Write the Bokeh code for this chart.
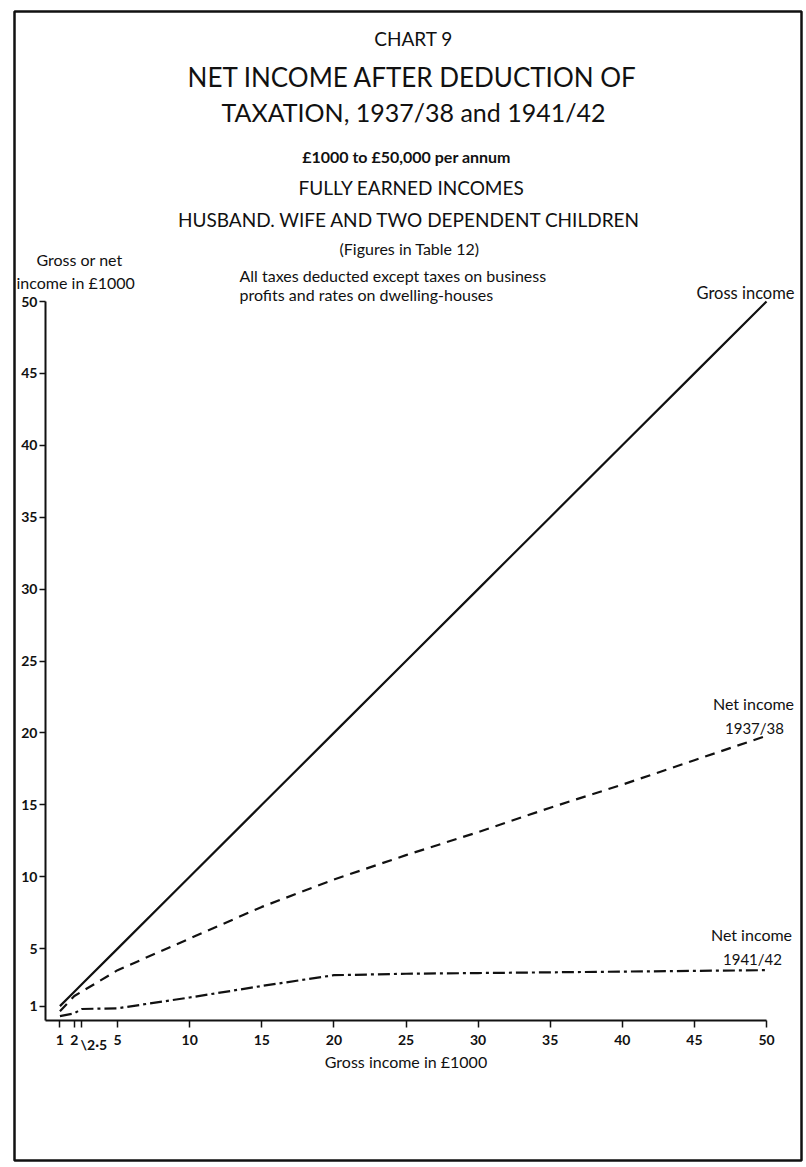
from bokeh.plotting import figure
from bokeh.models import Range1d, FixedTicker, Label, BoxAnnotation, LinearAxis
from bokeh.embed import file_html
from bokeh.resources import INLINE

# ---- data (values in £1000) ----
gross_income = [1, 2, 2.5, 5, 10, 15, 20, 25, 30, 35, 40, 45, 50]
gross_line = [1, 2, 2.5, 5, 10, 15, 20, 25, 30, 35, 40, 45, 50]
net_1937_38 = [0.65, 1.7, 2.0, 3.5, 5.7, 7.9, 9.8, 11.5, 13.1, 14.8, 16.4, 18.1, 19.8]
net_1941_42 = [0.3, 0.5, 0.8, 0.85, 1.6, 2.4, 3.15, 3.25, 3.3, 3.35, 3.4, 3.45, 3.5]

x_ticks = [1, 2, 2.5, 5, 10, 15, 20, 25, 30, 35, 40, 45, 50]
y_ticks = [1, 5, 10, 15, 20, 25, 30, 35, 40, 45, 50]

FONT = "Lato"
INK = "#111111"

W, H = 804, 1165
# canvas position of data origin and pixels per unit
OX, OY = 45.0, 1020.0
SX, SY = 14.42, 14.38

def dx(px):
    return (px - OX) / SX
def dy(py):
    return (OY - py) / SY

p = figure(width=W, height=H, output_backend="svg", toolbar_location=None,
           x_range=Range1d(dx(0), dx(W)), y_range=Range1d(dy(H), dy(0)),
           x_axis_location=None, y_axis_location=None,
           min_border=0, min_border_left=0, min_border_right=0,
           min_border_top=0, min_border_bottom=0)
p.outline_line_color = None
p.xgrid.grid_line_color = None
p.ygrid.grid_line_color = None
p.background_fill_color = "white"
p.border_fill_color = "white"

# axes
xa = LinearAxis(fixed_location=0, bounds=(0, 50))
xa.ticker = FixedTicker(ticks=x_ticks, minor_ticks=[])
xa.major_label_overrides = {2.5: ""}
xa.major_tick_out = 7
xa.major_tick_in = 0
xa.minor_tick_out = 0
xa.axis_line_width = 2
xa.axis_line_color = INK
xa.major_tick_line_color = INK
xa.major_tick_line_width = 1.5
xa.major_label_text_font = FONT
xa.major_label_text_font_size = "14px"
xa.major_label_text_font_style = "bold"
xa.major_label_text_color = INK
xa.major_label_standoff = 7
xa.axis_label = "Gross income in £1000"
xa.axis_label_text_font = FONT
xa.axis_label_text_font_size = "16px"
xa.axis_label_text_font_style = "normal"
xa.axis_label_text_color = INK
xa.axis_label_standoff = 4
p.add_layout(xa, "below")

ya = LinearAxis(fixed_location=0, bounds=(0, 50))
ya.ticker = FixedTicker(ticks=y_ticks, minor_ticks=[])
ya.major_tick_out = 6
ya.major_tick_in = 0
ya.minor_tick_out = 0
ya.axis_line_width = 2
ya.axis_line_color = INK
ya.major_tick_line_color = INK
ya.major_tick_line_width = 1.5
ya.major_label_text_font = FONT
ya.major_label_text_font_size = "14px"
ya.major_label_text_font_style = "bold"
ya.major_label_text_color = INK
ya.major_label_standoff = 2
p.add_layout(ya, "left")

# lines
p.line(gross_income, gross_line, line_width=2.2, line_color=INK)
p.line(gross_income, net_1937_38, line_width=2.2, line_color=INK, line_dash="10 7")
p.line(gross_income, net_1941_42, line_width=2.2, line_color=INK, line_dash="12 4 3 4")

# outer frame
p.add_layout(BoxAnnotation(left=dx(14), right=dx(801), top=dy(11), bottom=dy(1160),
                           fill_alpha=0, line_color=INK, line_alpha=1, line_width=2.5))

def lab(text, px, py, size, align="center", style="normal"):
    p.add_layout(Label(x=dx(px), y=dy(py), text=text, text_font=FONT,
                       text_font_size=size, text_align=align, text_baseline="middle",
                       text_color=INK, text_font_style=style))

lab("CHART 9", 413, 38, "19px")
lab("NET INCOME AFTER DEDUCTION OF", 412, 76, "26px")
lab("TAXATION, 1937/38 and 1941/42", 413, 111, "25px")
lab("£1000 to £50,000 per annum", 406, 156, "16px", style="bold")
lab("FULLY EARNED INCOMES", 411, 187, "19px")
lab("HUSBAND. WIFE AND TWO DEPENDENT CHILDREN", 409, 219, "19px")
lab("(Figures in Table 12)", 409, 248, "16px")
lab("All taxes deducted except taxes on business", 239, 275, "16px", align="left")
lab("profits and rates on dwelling-houses", 239, 294, "16px", align="left")
lab("Gross or net", 79, 259, "16px")
lab("income in £1000", 16, 282, "16px", align="left")
lab("Gross income", 745, 292, "16.5px")
lab("Net income", 753, 703, "16px")
lab("1937/38", 754, 727, "15px")
lab("Net income", 751, 934, "16px")
lab("1941/42", 752, 958, "15px")
lab("\\2·5", 80, 1044, "14px", align="left", style="bold")

open("out.html", "w").write(file_html(p, INLINE))
